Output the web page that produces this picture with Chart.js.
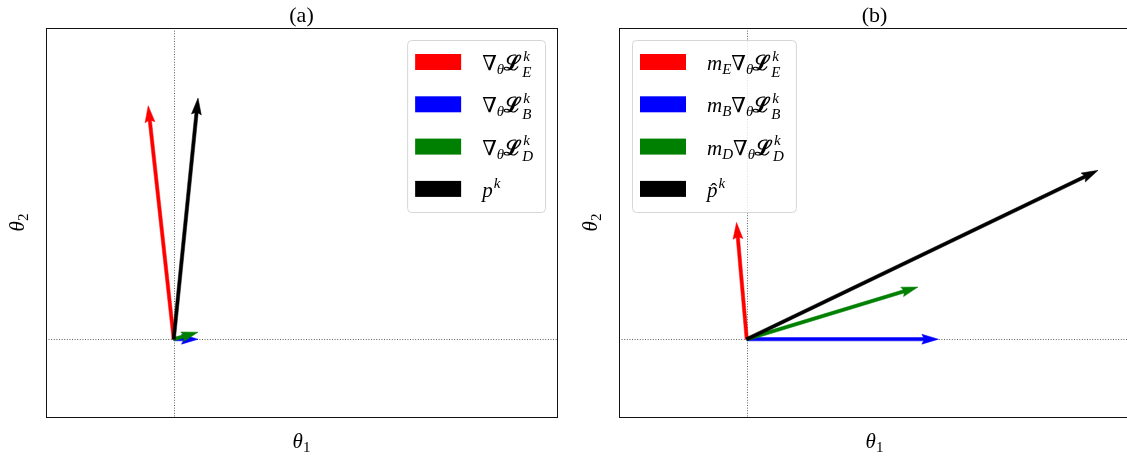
<!DOCTYPE html>
<html>
<head>
<meta charset="utf-8">
<script src="https://cdn.jsdelivr.net/npm/chart.js@4/dist/chart.umd.min.js"></script>
<style>
  html, body { margin: 0; padding: 0; background: #fff; overflow: hidden; }
  #wrap { position: relative; width: 1127px; height: 457px; overflow: hidden; }
  .pane { position: absolute; top: 0; height: 457px; }
</style>
</head>
<body>
<div id="wrap">
  <div class="pane" style="left:0;width:563px"><canvas id="panelA" width="563" height="457"></canvas></div>
  <div class="pane" style="left:563px;width:572px"><canvas id="panelB" width="572" height="457"></canvas></div>
</div>
<script>
// Gradient components (E, B, D) and the combined update direction
const seriesColors = ['#ff0000', '#0000ff', '#008000', '#000000'];
const seriesKeys = ['E', 'B', 'D', 'sum'];

// Panel (a): raw gradients and the resulting direction p^k
const panelA_dx = [-0.20, 0.19, 0.19, 0.19];
const panelA_dy = [3.00, 0.00, 0.09, 3.10];

// Panel (b): gradients scaled by m_E, m_B, m_D and the direction p̂^k
const panelB_dx = [-0.08, 1.50, 1.34, 2.75];
const panelB_dy = [1.50, 0.00, 0.67, 2.17];

// Axis limits (shared by both panels)
const xLimits = [-1, 3];
const yLimits = [-1, 4];

// Panel titles and axis labels
const panelTitles = ['(a)', '(b)'];
const xLabelTokens = [['i', 'θ'], ['subr', '1']];
const yLabelTokens = [['i', 'θ'], ['subr', '2']];

// Legend entries as math token lists
const legendA = [
  [['r', '∇'], ['sub', 'θ'], ['cal', 'ℒ'], ['supsub', 'k', 'E']],
  [['r', '∇'], ['sub', 'θ'], ['cal', 'ℒ'], ['supsub', 'k', 'B']],
  [['r', '∇'], ['sub', 'θ'], ['cal', 'ℒ'], ['supsub', 'k', 'D']],
  [['i', 'p'], ['sup', 'k']]
];
const legendB = [
  [['i', 'm'], ['sub', 'E'], ['r', '∇'], ['sub', 'θ'], ['cal', 'ℒ'], ['supsub', 'k', 'E']],
  [['i', 'm'], ['sub', 'B'], ['r', '∇'], ['sub', 'θ'], ['cal', 'ℒ'], ['supsub', 'k', 'B']],
  [['i', 'm'], ['sub', 'D'], ['r', '∇'], ['sub', 'θ'], ['cal', 'ℒ'], ['supsub', 'k', 'D']],
  [['hat', 'p'], ['sup', 'k']]
];

const SERIF = '"Liberation Serif","DejaVu Serif",serif';
const MAIN_SIZE = 21;

function fontFor(kind, size) {
  if (kind === 'r' || kind === 'subr') return `${size}px ${SERIF}`;
  if (kind === 'cal') return `bold ${size}px ${SERIF}`;
  return `italic ${size}px ${SERIF}`;
}

// Lays out (and optionally draws) a row of math tokens; returns its width
function mathText(ctx, tokens, size, x, y, draw) {
  const s = Math.round(size * 0.71);
  let cx = x;
  for (const tk of tokens) {
    const kind = tk[0], a = tk[1], b = tk[2];
    if (kind === 'sub' || kind === 'subr') {
      ctx.font = fontFor(kind === 'sub' ? 'i' : 'r', s);
      if (draw) ctx.fillText(a, cx, y + 4);
      cx += ctx.measureText(a).width;
    } else if (kind === 'sup') {
      ctx.font = fontFor('i', s);
      if (draw) ctx.fillText(a, cx + 1, y - 9);
      cx += ctx.measureText(a).width + 1;
    } else if (kind === 'supsub') {
      ctx.font = fontFor('i', s);
      const w1 = ctx.measureText(a).width, w2 = ctx.measureText(b).width;
      if (draw) { ctx.fillText(a, cx + 1, y - 9.5); ctx.fillText(b, cx, y + 6.5); }
      cx += Math.max(w1 + 1, w2);
    } else if (kind === 'hat') {
      ctx.font = fontFor('i', size);
      const w = ctx.measureText(a).width;
      if (draw) {
        ctx.fillText(a, cx, y);
        ctx.font = fontFor('r', size);
        const hw = ctx.measureText('ˆ').width;
        ctx.fillText('ˆ', cx + w / 2 - hw / 2 + 1.5, y + 1);
      }
      cx += w;
    } else {
      ctx.font = fontFor(kind, size);
      if (draw) ctx.fillText(a, cx, y);
      cx += ctx.measureText(a).width;
    }
  }
  return cx - x;
}

// Quiver-style arrow polygon (shaft width w, head 3w wide, 5w long)
function drawArrow(ctx, x0, y0, x1, y1, color, w) {
  const dx = x1 - x0, dy = y1 - y0, L = Math.hypot(dx, dy);
  if (L < 0.5) return;
  const ux = dx / L, uy = dy / L, nx = -uy, ny = ux;
  let hl = 5 * w, hal = 4.5 * w, hw = 1.5 * w;
  const sw = w / 2;
  if (L < hl) { const k = L / hl; hl *= k; hal *= k; hw *= k; }
  const P = (t, n) => [x0 + ux * t + nx * n, y0 + uy * t + ny * n];
  const pts = [P(0, sw), P(L - hal, sw), P(L - hl, hw), P(L, 0), P(L - hl, -hw), P(L - hal, -sw), P(0, -sw)];
  ctx.beginPath();
  ctx.moveTo(pts[0][0], pts[0][1]);
  for (let i = 1; i < pts.length; i++) ctx.lineTo(pts[i][0], pts[i][1]);
  ctx.closePath();
  ctx.fillStyle = color;
  ctx.fill();
  ctx.lineWidth = 0.5;
  ctx.strokeStyle = color;
  ctx.stroke();
}

function roundRect(ctx, x, y, w, h, r) {
  ctx.beginPath();
  ctx.moveTo(x + r, y);
  ctx.lineTo(x + w - r, y);
  ctx.arcTo(x + w, y, x + w, y + r, r);
  ctx.lineTo(x + w, y + h - r);
  ctx.arcTo(x + w, y + h, x + w - r, y + h, r);
  ctx.lineTo(x + r, y + h);
  ctx.arcTo(x, y + h, x, y + h - r, r);
  ctx.lineTo(x, y + r);
  ctx.arcTo(x, y, x + r, y, r);
  ctx.closePath();
}

const quiverPlugin = {
  id: 'quiver',
  beforeDatasetsDraw(chart) {
    const { ctx, chartArea: a, scales } = chart;
    const x0 = Math.round(scales.x.getPixelForValue(0)) + 0.5;
    const y0 = Math.round(scales.y.getPixelForValue(0)) + 0.5;
    ctx.save();
    ctx.strokeStyle = 'rgba(0,0,0,0.8)';
    ctx.lineWidth = 0.8;
    ctx.setLineDash([1, 1.6]);
    ctx.beginPath();
    ctx.moveTo(x0, a.top); ctx.lineTo(x0, a.bottom);
    ctx.moveTo(a.left, y0); ctx.lineTo(a.right, y0);
    ctx.stroke();
    ctx.restore();
  },
  afterDatasetsDraw(chart, args, opts) {
    const { ctx, chartArea: a } = chart;
    ctx.save();
    // arrows from each dataset's origin point to its tip point
    chart.data.datasets.forEach((ds, i) => {
      const meta = chart.getDatasetMeta(i);
      const p0 = meta.data[0], p1 = meta.data[1];
      drawArrow(ctx, p0.x, p0.y, p1.x, p1.y, ds.borderColor, 3.3);
    });
    // axes frame
    ctx.strokeStyle = '#111';
    ctx.lineWidth = 1;
    ctx.strokeRect(Math.round(a.left) + 0.5, Math.round(a.top) + 0.5,
                   Math.round(a.right - a.left), Math.round(a.bottom - a.top));
    // legend
    const rows = opts.legendRows;
    let tw = 0;
    rows.forEach(r => { tw = Math.max(tw, mathText(ctx, r, MAIN_SIZE, 0, 0, false)); });
    const boxW = 8 + 46 + 21 + tw + 12;
    const boxH = 172;
    const bx = opts.legendSide === 'right' ? a.right - 12 - boxW : a.left + 13;
    const by = a.top + 12;
    roundRect(ctx, bx + 0.5, by + 0.5, boxW, boxH, 4);
    ctx.fillStyle = 'rgba(255,255,255,0.8)';
    ctx.fill();
    ctx.strokeStyle = '#d6d6d6';
    ctx.lineWidth = 1;
    ctx.stroke();
    rows.forEach((r, i) => {
      const cy = by + 22 + i * 42.3;
      ctx.fillStyle = seriesColors[i];
      ctx.fillRect(bx + 8, cy - 8, 46, 16);
      ctx.fillStyle = '#000';
      mathText(ctx, r, MAIN_SIZE, bx + 8 + 46 + 21, cy + 8, true);
    });
    // title
    ctx.fillStyle = '#000';
    ctx.font = `${MAIN_SIZE + 1}px ${SERIF}`;
    ctx.textAlign = 'center';
    ctx.fillText(opts.title, (a.left + a.right) / 2, a.top - 6);
    ctx.textAlign = 'left';
    // x label
    const xw = mathText(ctx, xLabelTokens, MAIN_SIZE, 0, 0, false);
    mathText(ctx, xLabelTokens, MAIN_SIZE, (a.left + a.right) / 2 - xw / 2, a.bottom + 31, true);
    // y label (rotated)
    const yw = mathText(ctx, yLabelTokens, MAIN_SIZE, 0, 0, false);
    ctx.translate(a.left - 22, (a.top + a.bottom) / 2);
    ctx.rotate(-Math.PI / 2);
    mathText(ctx, yLabelTokens, MAIN_SIZE, -yw / 2, 0, true);
    ctx.restore();
  }
};

function buildPanel(canvasId, dxs, dys, rows, title, side, padding) {
  const datasets = seriesKeys.map((key, i) => ({
    label: key,
    data: [{ x: 0, y: 0 }, { x: dxs[i], y: dys[i] }],
    borderColor: seriesColors[i],
    backgroundColor: seriesColors[i],
    pointRadius: 0,
    showLine: false
  }));
  return new Chart(document.getElementById(canvasId), {
    type: 'scatter',
    data: { datasets },
    options: {
      responsive: false,
      animation: false,
      events: [],
      layout: { padding },
      plugins: {
        legend: { display: false },
        tooltip: { enabled: false },
        quiver: { legendRows: rows, title, legendSide: side }
      },
      scales: {
        x: { type: 'linear', min: xLimits[0], max: xLimits[1], display: false },
        y: { type: 'linear', min: yLimits[0], max: yLimits[1], display: false }
      }
    },
    plugins: [quiverPlugin]
  });
}

buildPanel('panelA', panelA_dx, panelA_dy, legendA, panelTitles[0], 'right',
           { left: 46, right: 6, top: 28, bottom: 40 });
buildPanel('panelB', panelB_dx, panelB_dy, legendB, panelTitles[1], 'left',
           { left: 56, right: 5, top: 28, bottom: 40 });
</script>
</body>
</html>
